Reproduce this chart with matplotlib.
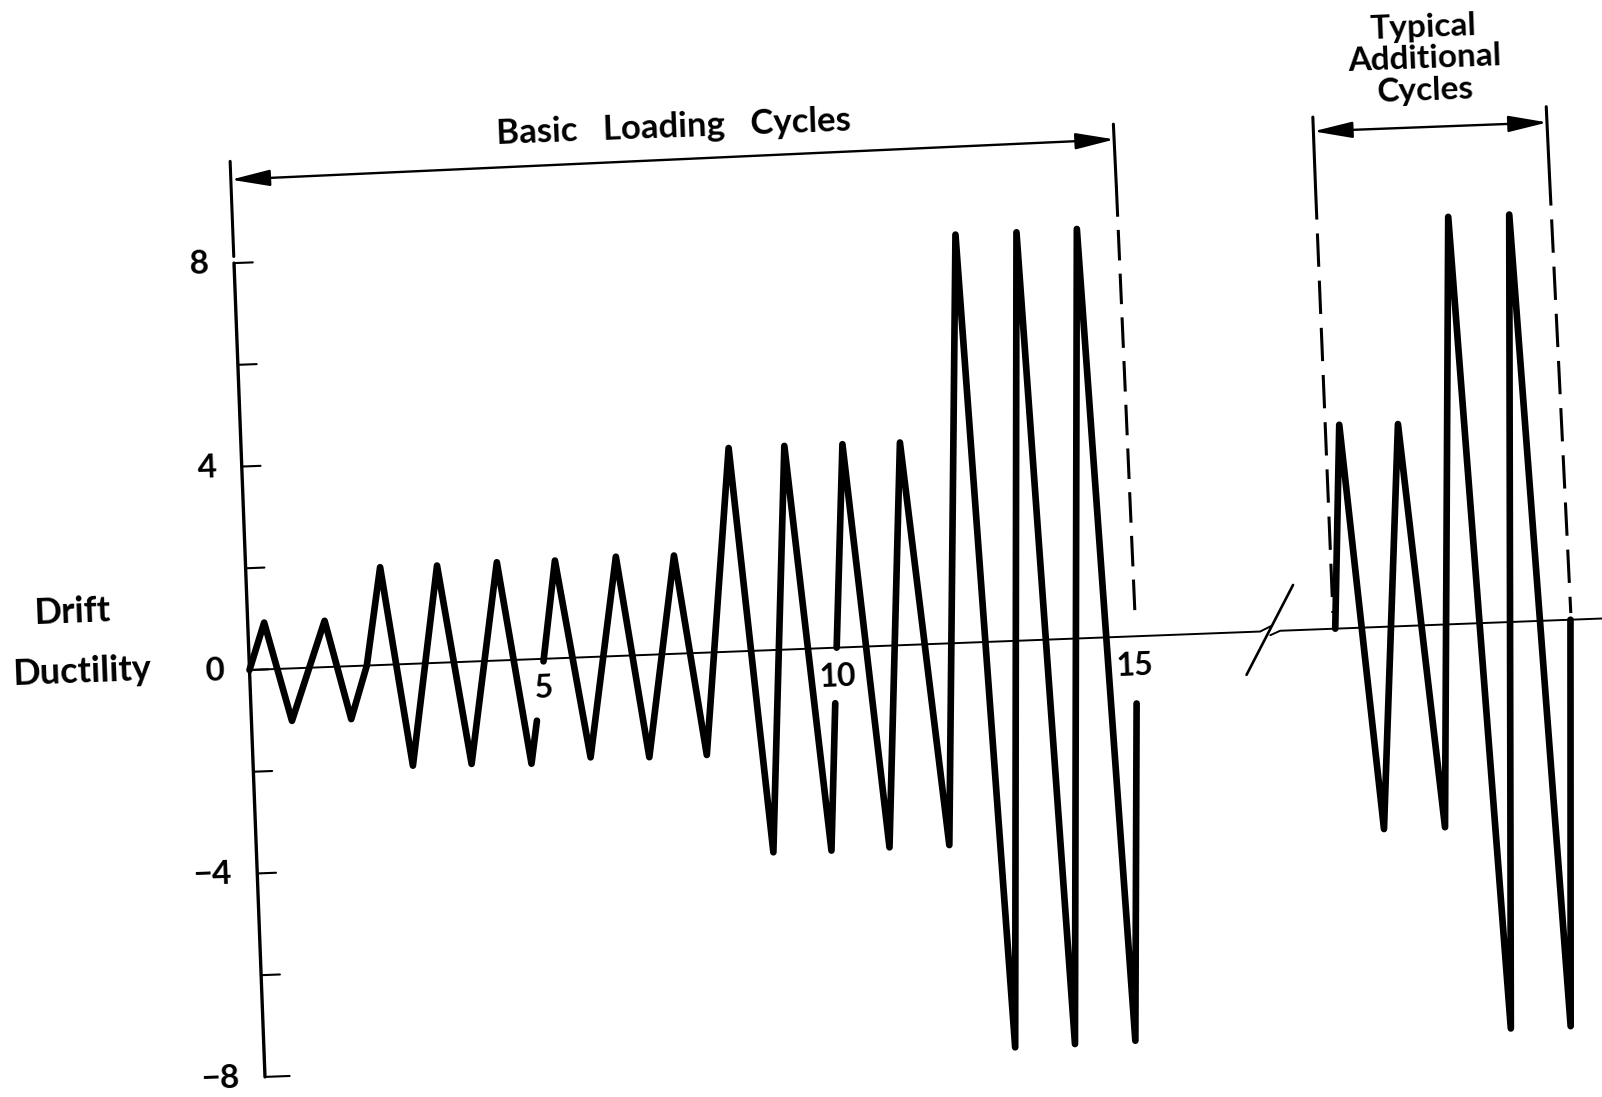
import numpy as np
import matplotlib
matplotlib.use("Agg")
import matplotlib.pyplot as plt
import matplotlib.transforms as mtransforms

plt.rcParams['font.family'] = ['Lato', 'DejaVu Sans']
plt.rcParams['lines.scale_dashes'] = False

# ---------------- data (cycle number, drift ductility) ----------------
# basic loading cycles (NaN = gap where the line is interrupted by a label)
basic_cycle = [0.00, 0.28, 0.69, 1.31, 1.70, 2.00, 2.29, 2.72, 3.26, 3.72, 4.28, 4.74, 4.86,
               np.nan, 5.01, 5.27, 5.75, 6.31, 6.75, 7.30, 7.73, 8.30, 8.80, 9.25, 9.79, 9.95,
               np.nan, 10.01, 10.24, 10.78, 11.22, 11.80, 12.30, 12.79, 13.34, 13.81, 14.37,
               14.84, 15.08]
basic_drift = [0.00, 0.92, -1.03, 0.91, -1.04, 0.00, 1.92, -2.00, 1.91, -2.01, 1.93, -2.05, -1.21,
               np.nan, -0.05, 1.92, -1.97, 1.95, -2.01, 1.93, -2.01, 4.00, -3.97, 4.00, -3.98, -1.09,
               np.nan, 0.00, 3.99, -3.96, 3.98, -3.96, 8.02, -7.98, 8.02, -7.96, 8.04,
               -7.94, -1.32]

# typical additional cycles
extra_cycle = [18.51, 18.71, 19.21, 19.71, 20.25, 20.70, 21.24, 21.74, 22.26, 22.52]
extra_drift = [0.00, 4.00, -3.97, 3.97, -3.98, 8.00, -7.98, 8.00, -7.98, 0.00]

ytick_values = [-8, -6, -4, -2, 0, 2, 4, 6, 8]
ylabel_values = [8, 4, 0, -4, -8]
ylabel_texts = ['8', '4', '0', '\u22124', '\u22128']

xlabel_values = [5.00, 10.02, 15.08]
xlabel_texts = ['5', '10', '15']

basic_span = [0.0, 15.07]
extra_span = [18.46, 22.45]

# ---------------- layout ----------------
W, H = 1602, 1097
X0, Y0 = 249.5, 670.0      # pixel position of (0, 0) before rotation
SX, SY = 58.7, 50.9        # pixels per cycle / per unit ductility
ANGLE = 2.18               # slight tilt of the scanned drawing

fig = plt.figure(figsize=(W / 100, H / 100), dpi=100)
fig.patch.set_facecolor('white')
ax = fig.add_axes([0, 0, 1, 1])
ax.set_xlim(-X0 / SX, (W - X0) / SX)
ax.set_ylim(-(H - Y0) / SY, Y0 / SY)
ax.set_autoscale_on(False)
ax.axis('off')

ox, oy = ax.transData.transform((0, 0))
T = ax.transData + mtransforms.Affine2D().rotate_deg_around(ox, oy, ANGLE)

K = 'black'
txt_kw = dict(transform=T, rotation=ANGLE, rotation_mode='anchor', color=K, fontweight='bold')

def line(xs, ys, lw, **kw):
    ax.plot(xs, ys, transform=T, color=K, lw=lw, clip_on=False,
            solid_capstyle='round', solid_joinstyle='round', **kw)

# waveform
line(basic_cycle, basic_drift, 4.8, zorder=4)
line(extra_cycle, extra_drift, 4.8, zorder=4)

# vertical axis with ticks
line([0, 0], [ytick_values[0], ytick_values[-1]], 2.4, zorder=3)
for v in ytick_values:
    L = 0.42 if v == ytick_values[0] else 0.32
    line([0, L], [v, v], 1.5, zorder=3)
for v, s in zip(ylabel_values, ylabel_texts):
    ax.text(-0.43, v, s, ha='right', va='center', fontsize=24, **txt_kw)

ax.text(-2.98, 1.27, 'Drift', ha='center', va='center', fontsize=26, **txt_kw)
ax.text(-2.85, 0.09, 'Ductility', ha='center', va='center', fontsize=26, **txt_kw)

# zero (time) line with break symbol
line([0, 17.23, 17.42], [0, 0, 0.10], 1.4, zorder=2)
line([17.40, 17.57, 23.5], [-0.08, 0, 0], 1.4, zorder=2)
line([16.97, 17.82], [-0.84, 0.89], 1.9, zorder=2)

# cycle labels
for v, s in zip(xlabel_values, xlabel_texts):
    ax.text(v, -0.57, s, ha='center', va='center', fontsize=23, **txt_kw)

# span boundaries
line([basic_span[0], basic_span[0]], [8.13, 10.0], 2.2, zorder=2)
line([basic_span[1] - 0.01, basic_span[1]], [10.07, 8.85], 2.2, zorder=2)
ax.plot([basic_span[1], basic_span[1] + 0.04], [8.85, 0.45], transform=T, color=K, lw=2.2,
        dashes=(22, 9.5), dash_capstyle='butt', clip_on=False)

line([extra_span[0], extra_span[0]], [10.06, 8.70], 2.2, zorder=2)
ax.plot([extra_span[0], extra_span[0] + 0.02], [8.70, 0.31], transform=T, color=K, lw=2.2,
        dashes=(24, 10), dash_capstyle='butt', clip_on=False)
line([extra_span[1] - 0.01, extra_span[1]], [10.09, 8.80], 2.2, zorder=2)
ax.plot([extra_span[1], extra_span[1] + 0.08], [8.80, 0.13], transform=T, color=K, lw=2.2,
        dashes=(24, 10), dash_capstyle='butt', clip_on=False)

arrow_kw = dict(arrowstyle='<|-|>,head_length=1.2,head_width=0.25', color=K, lw=1.7,
                mutation_scale=20, shrinkA=0, shrinkB=0)
ax.annotate('', xy=(basic_span[1], 9.77), xytext=(basic_span[0], 9.64),
            xycoords=T, textcoords=T, arrowprops=arrow_kw, annotation_clip=False)
ax.annotate('', xy=(extra_span[1], 9.78), xytext=(extra_span[0], 9.78),
            xycoords=T, textcoords=T, arrowprops=arrow_kw, annotation_clip=False)

ax.text(7.58, 10.33, 'Basic   Loading   Cycles', ha='center', va='center', fontsize=25, **txt_kw)
ax.text(20.40, 11.12, 'Typical\nAdditional\nCycles', ha='center', va='center',
        multialignment='center', linespacing=1.1, fontsize=24, **txt_kw)

fig.savefig('out.png', dpi=100, facecolor='white')
